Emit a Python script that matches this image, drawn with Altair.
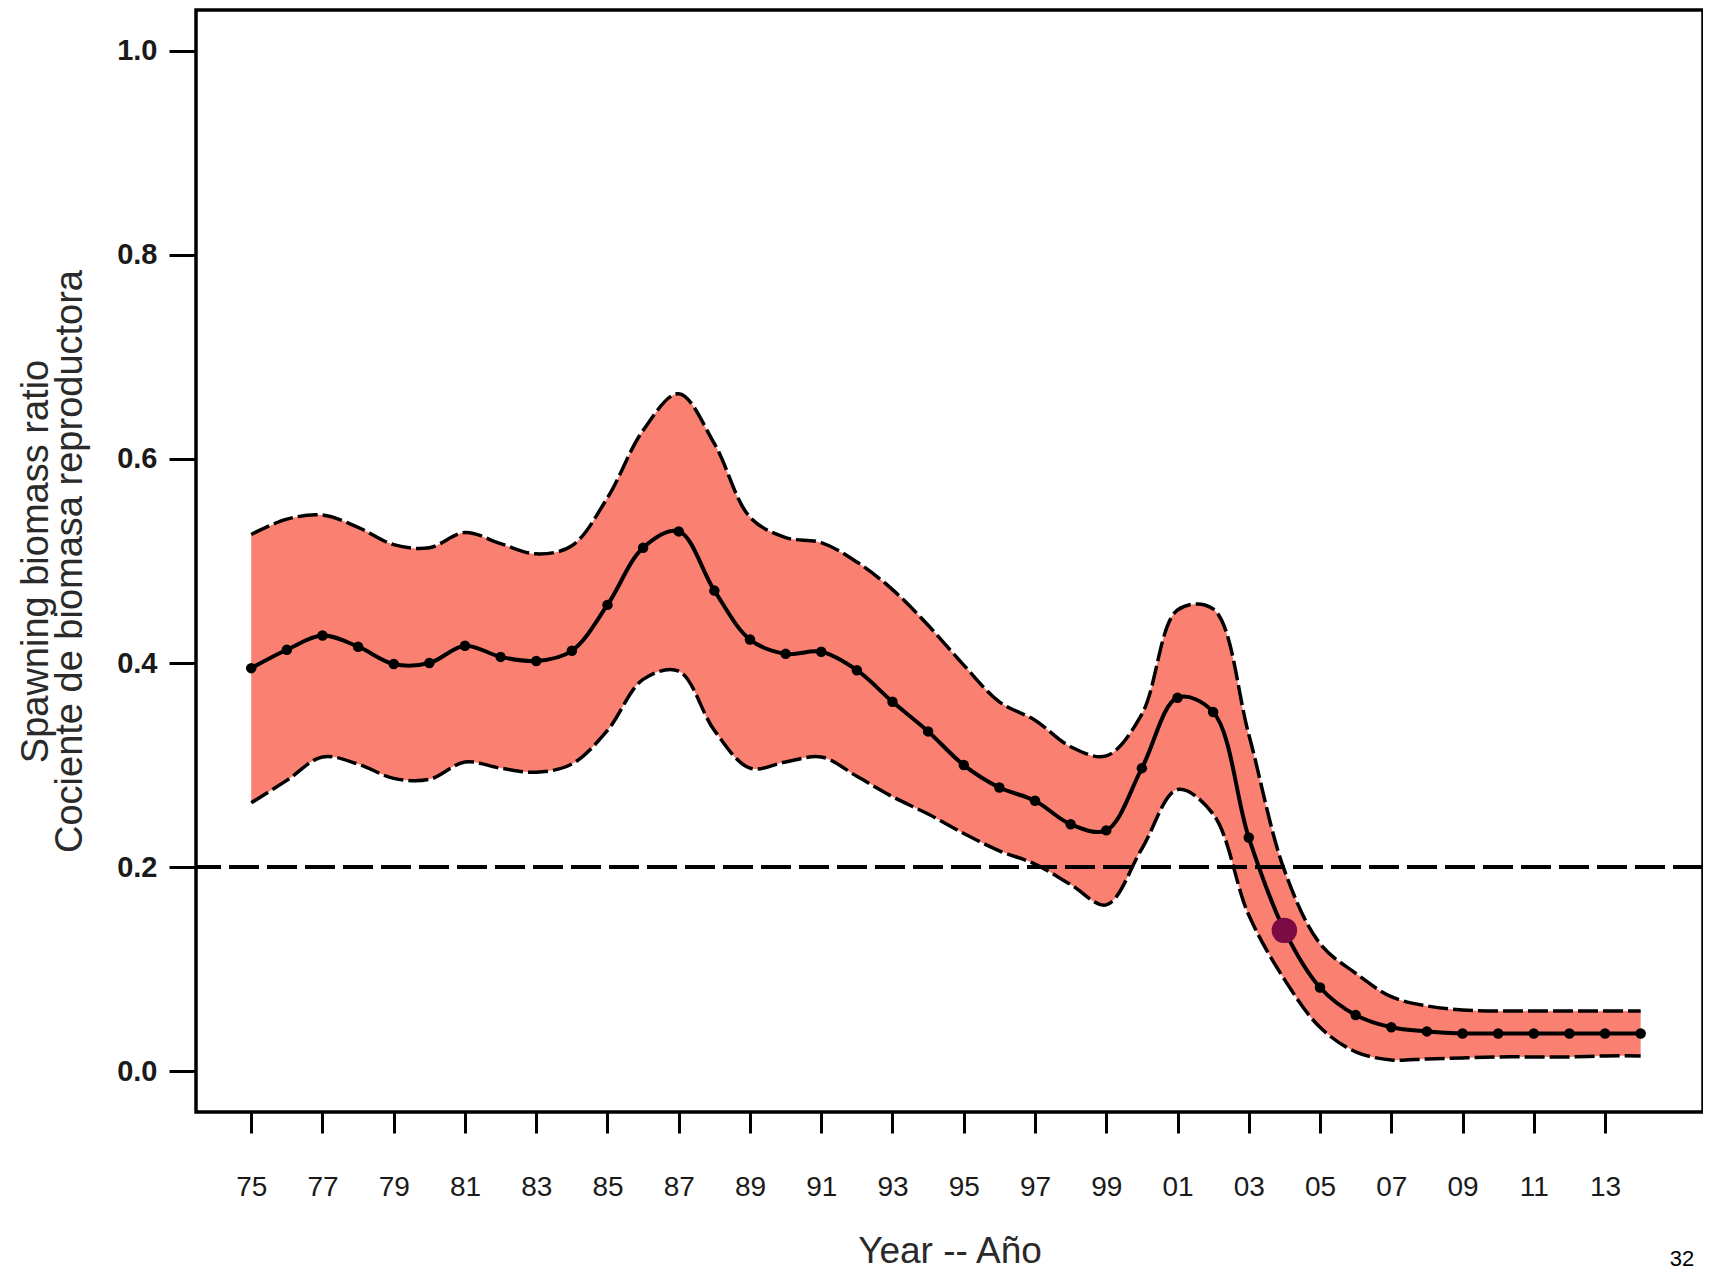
import altair as alt
import pandas as pd

# ---- data ----
years = list(range(1975, 2015))

ratio = [0.395, 0.413, 0.427, 0.416, 0.399, 0.400, 0.417, 0.406, 0.402, 0.412,
         0.457, 0.513, 0.529, 0.471, 0.423, 0.409, 0.411, 0.393, 0.362, 0.333,
         0.300, 0.278, 0.265, 0.242, 0.236, 0.297, 0.366, 0.352, 0.229, 0.138,
         0.082, 0.055, 0.043, 0.039, 0.037, 0.037, 0.037, 0.037, 0.037, 0.037]

upper = [0.526, 0.541, 0.545, 0.533, 0.516, 0.513, 0.528, 0.517, 0.507, 0.515,
         0.562, 0.628, 0.664, 0.615, 0.543, 0.523, 0.518, 0.499, 0.472, 0.437,
         0.398, 0.362, 0.344, 0.318, 0.309, 0.350, 0.452, 0.453, 0.330, 0.197,
         0.125, 0.096, 0.073, 0.064, 0.060, 0.059, 0.059, 0.059, 0.059, 0.059]

lower = [0.263, 0.285, 0.308, 0.301, 0.287, 0.286, 0.303, 0.297, 0.293, 0.301,
         0.334, 0.384, 0.392, 0.334, 0.297, 0.303, 0.308, 0.289, 0.269, 0.252,
         0.233, 0.216, 0.203, 0.183, 0.163, 0.218, 0.276, 0.252, 0.153, 0.090,
         0.043, 0.019, 0.011, 0.012, 0.013, 0.014, 0.014, 0.014, 0.015, 0.015]

reference_level = 0.2
highlight_year = 2004

x_ticks = years
y_ticks = [0.0, 0.2, 0.4, 0.6, 0.8, 1.0]

df = pd.DataFrame({"year": years, "ratio": ratio, "upper": upper, "lower": lower})
hl = df[df["year"] == highlight_year]

FONT = "Liberation Sans"
INTERP = "catmull-rom"
TXT = "#1a1a1a"

x_enc = alt.X(
    "year:Q",
    scale=alt.Scale(domain=[1973.45, 2015.75], nice=False, zero=False),
    axis=alt.Axis(
        values=x_ticks,
        labelExpr="datum.value % 2 == 1 ? slice(toString(datum.value), 2) : ''",
        domain=False, grid=False,
        tickSize=21, tickWidth=3, tickColor="black",
        labelPadding=40, labelFont=FONT, labelFontSize=28, labelColor=TXT,
        labelFlush=False, labelOverlap=False,
        title="Year -- Año", titleFont=FONT, titleFontSize=37,
        titleFontWeight="normal", titleColor="#2a2a2a",
        titleY=150, titleBaseline="alphabetic",
    ),
)

y_scale = alt.Scale(domain=[-0.04, 1.04], nice=False, zero=False)
y_axis = alt.Axis(
    values=y_ticks, format=".1f",
    domain=False, grid=False,
    tickSize=27, tickWidth=3, tickColor="black",
    labelPadding=12, labelFont=FONT, labelFontSize=29, labelFontWeight="bold",
    labelColor=TXT, labelFlush=False,
    title=["Spawning biomass ratio", "Cociente de biomasa reproductora"],
    titleFont=FONT, titleFontSize=38, titleFontWeight="normal",
    titleColor="#2a2a2a", titleLineHeight=34, titlePadding=27,
)

base = alt.Chart(df)

band = base.mark_area(color="#FA8072", opacity=1, interpolate=INTERP).encode(
    x=x_enc,
    y=alt.Y("upper:Q", scale=y_scale, axis=y_axis),
    y2="lower:Q",
)

ref_rule = alt.Chart(df).mark_rule(
    color="black", strokeWidth=3.5, strokeDash=[30, 8]
).encode(y=alt.datum(reference_level))

upper_line = base.mark_line(
    color="black", strokeWidth=3.5, strokeDash=[20, 5], interpolate=INTERP
).encode(x="year:Q", y="upper:Q")

lower_line = base.mark_line(
    color="black", strokeWidth=3.5, strokeDash=[20, 5], interpolate=INTERP
).encode(x="year:Q", y="lower:Q")

center_line = base.mark_line(
    color="black", strokeWidth=4, interpolate=INTERP
).encode(x="year:Q", y="ratio:Q")

center_pts = base.mark_circle(color="black", size=110, opacity=1).encode(
    x="year:Q", y="ratio:Q"
)

hl_pt = alt.Chart(hl).mark_circle(color="#7B0B45", size=650, opacity=1).encode(
    x="year:Q", y="ratio:Q"
)

page_no = alt.Chart(df.head(1)).mark_text(
    text="32", font=FONT, fontSize=22, color="black", baseline="bottom", align="center"
).encode(x=alt.value(1486), y=alt.value(1261))

chart = alt.layer(
    band, ref_rule, upper_line, lower_line, center_line, center_pts, hl_pt, page_no
).properties(
    width=1507,
    height=1102,
    background="white",
    autosize=alt.AutoSizeParams(type="none"),
    padding={"left": 188, "top": 2, "right": 0, "bottom": 160},
).configure_view(
    stroke="black", strokeWidth=3.5
)

chart.save("out.html", embed_options={"renderer": "svg", "actions": False})
